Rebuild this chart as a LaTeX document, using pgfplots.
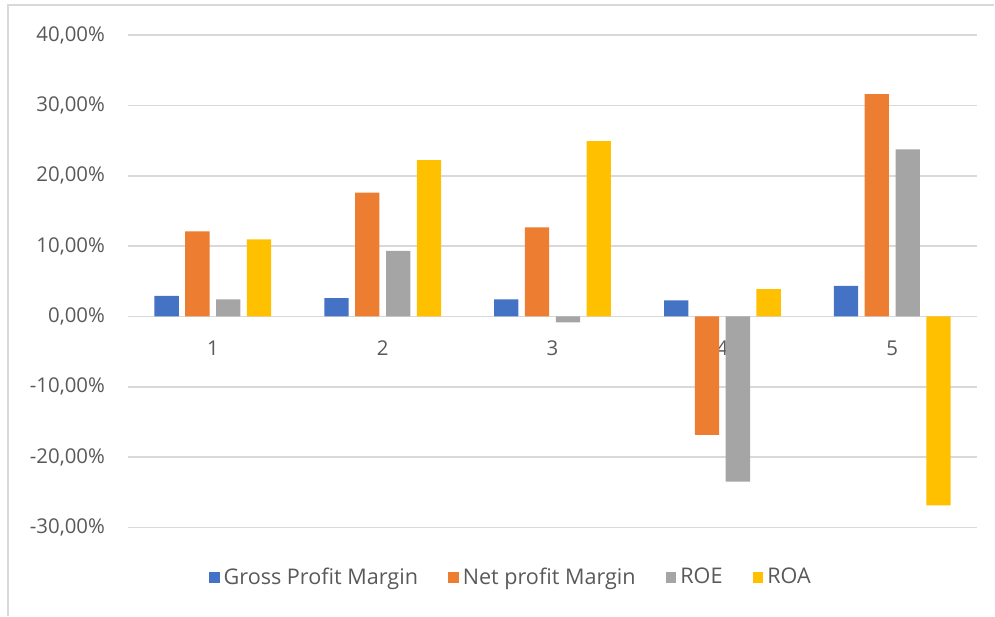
\documentclass[border=0pt]{standalone}
\usepackage{pgfplots}
\pgfplotsset{compat=1.18}
\usepackage{fontspec}
\setmainfont{Open Sans}
\definecolor{xblue}{HTML}{4472C4}
\definecolor{xorange}{HTML}{ED7D31}
\definecolor{xgrey}{HTML}{A5A5A5}
\definecolor{xyellow}{HTML}{FFC000}
\definecolor{xtext}{HTML}{595959}
\definecolor{xgrid}{HTML}{D9D9D9}
\begin{document}
\begin{tikzpicture}
% page size: 995x616 px at 0.5pt per px
\path (0pt,0pt) rectangle (497.5pt,308pt);
\draw[xgrid, line width=0.8pt] (4pt,0pt) -- (4pt,305.5pt) -- (497.5pt,305.5pt);
\begin{axis}[
  at={(64pt,44pt)}, anchor=south west,
  scale only axis, width=425pt, height=246.5pt,
  ybar, bar width=0.143,
  xmin=0.5, xmax=5.5, ymin=-30, ymax=40,
  xtick={1,2,3,4,5}, ytick={-30,-20,...,40},
  axis x line=middle, axis y line*=left,
  x axis line style={xgrid, line width=0.8pt, -},
  y axis line style={draw=none},
  major tick length=0pt,
  ymajorgrids, grid style={xgrid, line width=0.8pt},
  font=\fontsize{10.2}{12}\selectfont,
  tick label style={text=xtext, font=\fontsize{10.2}{12}\selectfont},
  /pgf/number format/assume math mode=true,
  yticklabel={\pgfmathprintnumber[fixed, fixed zerofill, precision=2, use comma]{\tick}\%},
  yticklabel style={xshift=-8pt},
  xticklabel style={yshift=-8.5pt},
  legend columns=4,
  legend style={at={(0.452,-0.101)}, anchor=center, draw=none, fill=none,
    text=xtext, font=\fontsize{10.8}{12}\selectfont,
    /tikz/every even column/.append style={column sep=13pt}},
  legend image code/.code={\fill[#1] (0pt,-2.7pt) rectangle (5.4pt,2.7pt);},
]
\addplot[fill=xblue, draw=none, bar shift=-0.272] coordinates {(1,2.93) (2,2.60) (3,2.42) (4,2.27) (5,4.35)};
\addlegendentry{Gross Profit Margin}
\addplot[fill=xorange, draw=none, bar shift=-0.091] coordinates {(1,12.09) (2,17.58) (3,12.66) (4,-16.84) (5,31.58)};
\addlegendentry{Net profit Margin}
\addplot[fill=xgrey, draw=none, bar shift=0.091] coordinates {(1,2.42) (2,9.33) (3,-0.85) (4,-23.47) (5,23.75)};
\addlegendentry{ROE}
\addplot[fill=xyellow, draw=none, bar shift=0.272] coordinates {(1,10.95) (2,22.23) (3,24.90) (4,3.88) (5,-26.84)};
\addlegendentry{ROA}
\end{axis}
\end{tikzpicture}
\end{document}
